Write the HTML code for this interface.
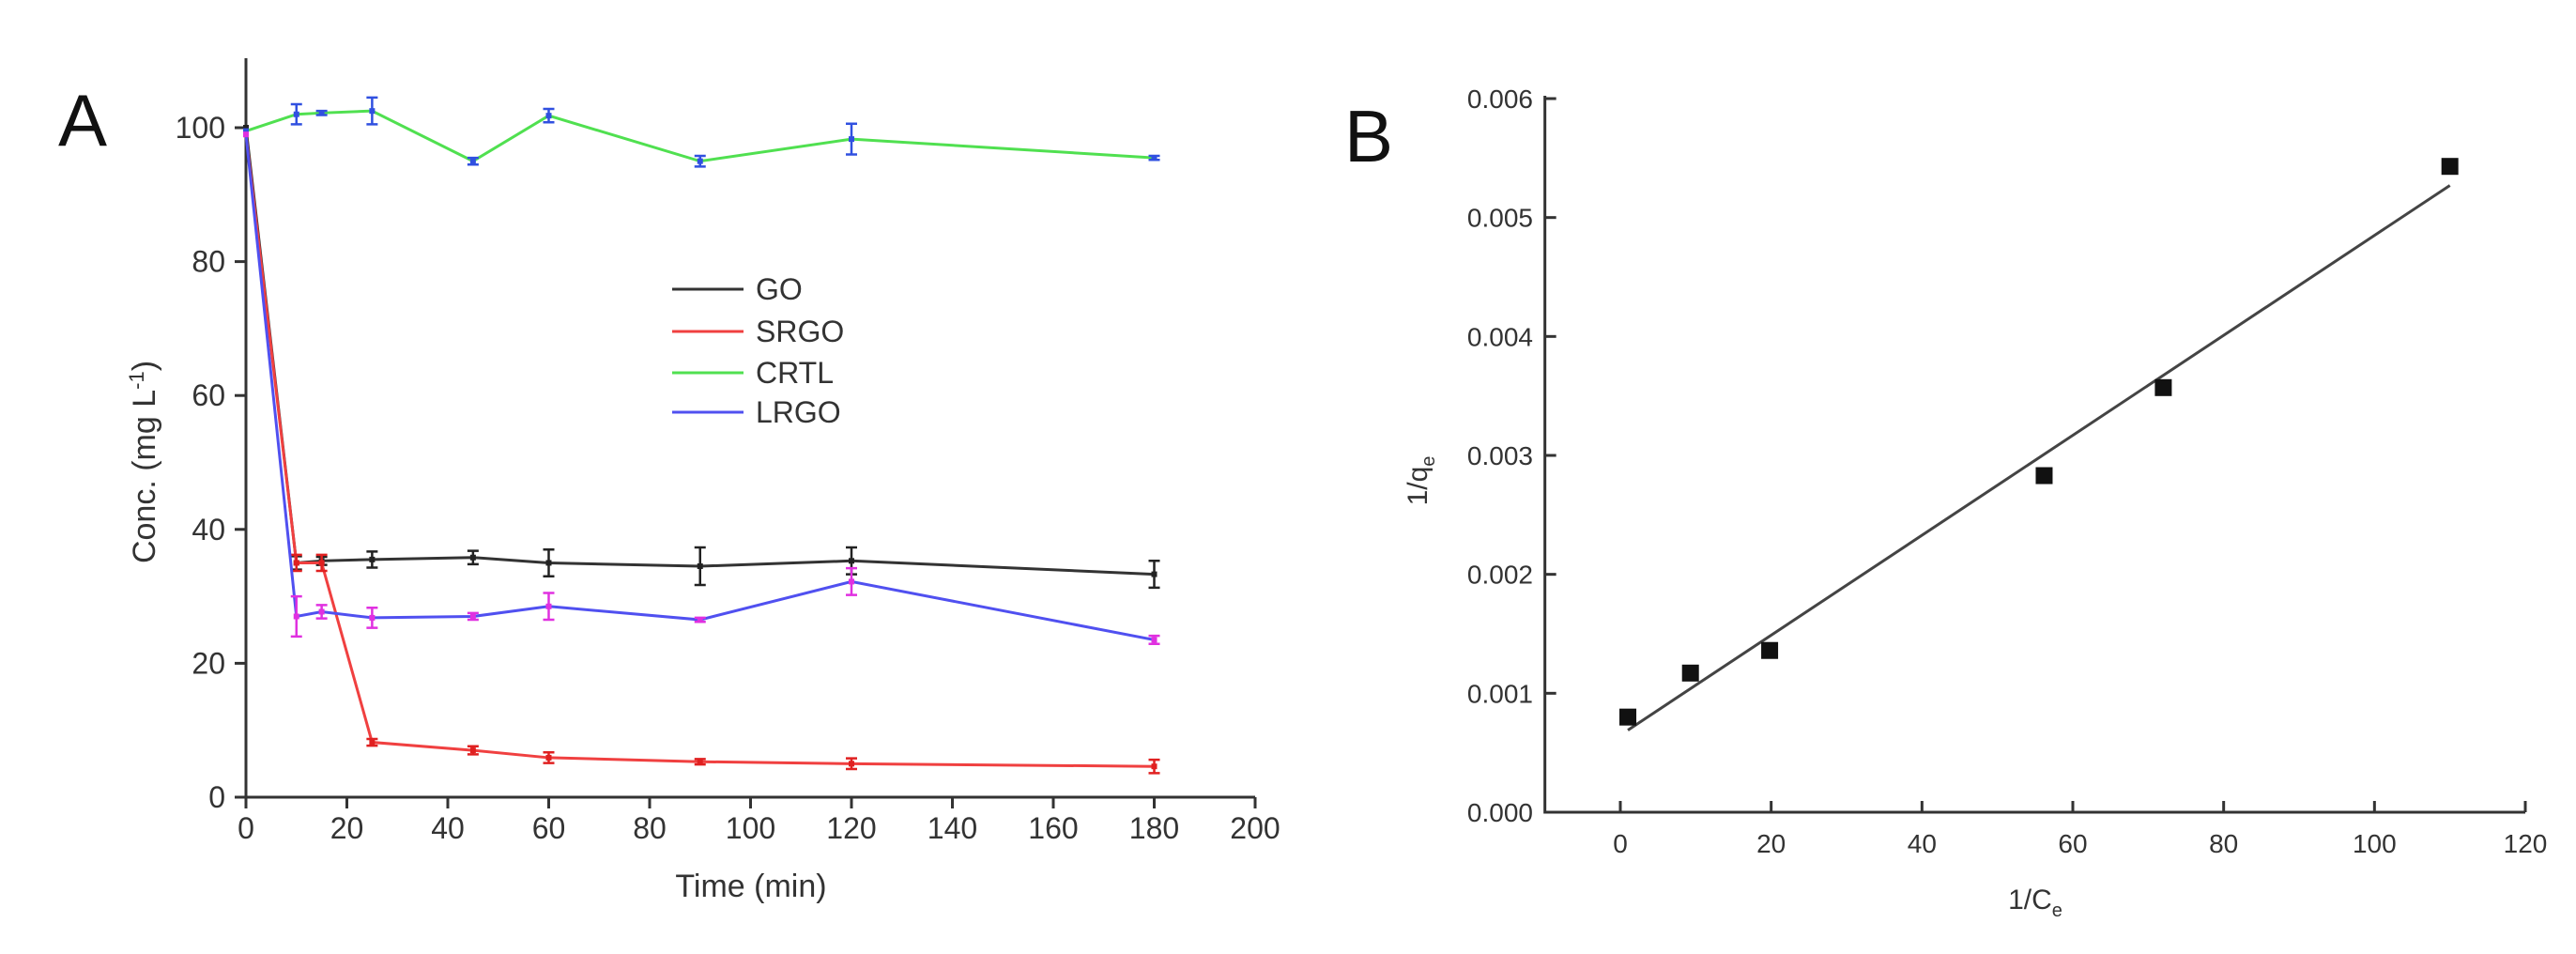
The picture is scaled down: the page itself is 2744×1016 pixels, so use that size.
<!DOCTYPE html>
<html><head><meta charset="utf-8"><style>
html,body{margin:0;padding:0;background:#fff}
svg{display:block}
text{font-family:"Liberation Sans",Arial,sans-serif;fill:#333}
</style></head><body>
<svg id="fig" width="2744" height="1016" viewBox="0 0 2744 1016">
<text x="88" y="155" font-size="78" text-anchor="middle" style="fill:#111">A</text>
<text x="1458" y="172" font-size="78" text-anchor="middle" style="fill:#111">B</text>
<g id="chartA"></g>
<g id="chartB"></g>
</svg>
<script>
// Chart A data
const times = [0,10,15,25,45,60,90,120,180];
const goVals = [100,35,35.3,35.5,35.8,35,34.5,35.3,33.3];
const goErr = [0,1,0.6,1.2,1,2,2.8,2,2];
const srgoVals = [99,35,35,8.2,7,5.9,5.3,5,4.6];
const srgoErr = [0,1.2,1.2,0.5,0.6,0.8,0.4,0.8,1];
const crtlVals = [99.5,102,102.2,102.5,95,101.8,95,98.3,95.5];
const crtlErr = [0,1.5,0.3,2,0.5,1,0.8,2.3,0.3];
const lrgoVals = [99,27,27.7,26.8,27,28.5,26.5,32.2,23.5];
const lrgoErr = [0,3,1,1.5,0.5,2,0.3,2,0.6];
const xTicksA = [0,20,40,60,80,100,120,140,160,180,200];
const yTicksA = [0,20,40,60,80,100];
// Chart B data
const invC = [1,9.3,19.8,56.2,72,110];
const invQ = [0.0008,0.00117,0.00136,0.00283,0.00357,0.00543];
const fitX = [1,110];
const fitY = [0.00069,0.00527];
const xTicksB = [0,20,40,60,80,100,120];
const yTicksB = [0,0.001,0.002,0.003,0.004,0.005,0.006];

const NS='http://www.w3.org/2000/svg';
function mk(parent,tag,attrs,txt){const e=document.createElementNS(NS,tag);for(const k in attrs)e.setAttribute(k,attrs[k]);if(txt!==undefined)e.textContent=txt;parent.appendChild(e);return e;}

// ---- Chart A ----
const A=document.getElementById('chartA');
const ax=v=>262+(v/200)*1075;
const ay=v=>849-(v/100)*713;
let axl=mk(A,'path',{d:`M262 62 V849 H${ax(200)}`,fill:'none',stroke:'#333','stroke-width':3});


xTicksA.forEach(t=>{
  let l=mk(A,'line',{x1:ax(t),x2:ax(t),y1:849,y2:861,stroke:'#333','stroke-width':3});
  
  
  let tx=mk(A,'text',{x:ax(t),y:893,'font-size':32,'text-anchor':'middle'},String(t));
  
  
});
yTicksA.forEach(t=>{
  let l=mk(A,'line',{x1:250,x2:262,y1:ay(t),y2:ay(t),stroke:'#333','stroke-width':3});
  
  
  let tx=mk(A,'text',{x:240,y:ay(t)+11,'font-size':32,'text-anchor':'end'},String(t));
  
  
});
let xt=mk(A,'text',{x:800,y:955,'font-size':34,'text-anchor':'middle'},'Time (min)');


let yt=mk(A,'text',{x:0,y:0,'font-size':34,'text-anchor':'middle',transform:'translate(165,492) rotate(-90)'});


yt.innerHTML='Conc. (mg L<tspan dy="-12" font-size="22">-1</tspan><tspan dy="12">)</tspan>';

const series=[
 {name:'GO',vals:goVals,err:goErr,c:'#333',ec:'#222'},
 {name:'SRGO',vals:srgoVals,err:srgoErr,c:'#f04040',ec:'#e02020'},
 {name:'CRTL',vals:crtlVals,err:crtlErr,c:'#50e050',ec:'#3050e0'},
 {name:'LRGO',vals:lrgoVals,err:lrgoErr,c:'#5050f0',ec:'#e030e0'}
];
series.forEach((s,si)=>{
  const g=mk(A,'g',{});
  
  
  const pts=times.map((t,i)=>ax(t)+','+ay(s.vals[i])).join(' ');
  let pl=mk(g,'polyline',{points:pts,fill:'none',stroke:s.c,'stroke-width':3});
  
  
  times.forEach((t,i)=>{
    const x=ax(t),y1=ay(s.vals[i]+s.err[i]),y2=ay(s.vals[i]-s.err[i]);
    if(s.err[i]>0){
      let e=mk(g,'path',{d:`M${x} ${y1} V${y2} M${x-6} ${y1} H${x+6} M${x-6} ${y2} H${x+6}`,stroke:s.ec,'stroke-width':2.5,fill:'none'});
      
      
    }
    let p=mk(g,'rect',{x:x-3,y:ay(s.vals[i])-3,width:6,height:6,fill:s.ec});
    
    
  });
  const ly=[308,353,397,439][si];
  let ll=mk(g,'line',{x1:716,x2:792,y1:ly,y2:ly,stroke:s.c,'stroke-width':3});
  
  
  let lt=mk(g,'text',{x:805,y:ly+11,'font-size':32},s.name);
  
  
});

// ---- Chart B ----
const B=document.getElementById('chartB');
const bx=v=>1726+(v/120)*964;
const by=v=>865-(v/0.006)*760;
let bxl=mk(B,'path',{d:`M${bx(-10)} 102 V865 H${bx(120)}`,fill:'none',stroke:'#333','stroke-width':3});


xTicksB.forEach(t=>{
  let l=mk(B,'line',{x1:bx(t),x2:bx(t),y1:865,y2:853,stroke:'#333','stroke-width':3});
  
  
  let tx=mk(B,'text',{x:bx(t),y:908,'font-size':28,'text-anchor':'middle'},String(t));
  
  
});
yTicksB.forEach(t=>{
  let l=mk(B,'line',{x1:bx(-10),x2:bx(-10)+12,y1:by(t),y2:by(t),stroke:'#333','stroke-width':3});
  
  
  let tx=mk(B,'text',{x:1633,y:by(t)+10,'font-size':28,'text-anchor':'end'},t.toFixed(3));
  
  
});
let bxt=mk(B,'text',{x:2168,y:968,'font-size':30,'text-anchor':'middle'});


bxt.innerHTML='1/C<tspan dy="8" font-size="20">e</tspan>';
let byt=mk(B,'text',{x:0,y:0,'font-size':30,'text-anchor':'middle',transform:'translate(1520,512) rotate(-90)'});


byt.innerHTML='1/q<tspan dy="8" font-size="20">e</tspan>';
let fl=mk(B,'line',{x1:bx(fitX[0]),y1:by(fitY[0]),x2:bx(fitX[1]),y2:by(fitY[1]),stroke:'#444','stroke-width':3});


invC.forEach((c,i)=>{
  let r=mk(B,'rect',{x:bx(c)-9,y:by(invQ[i])-9,width:18,height:18,fill:'#111'});
  
  
});
</script>
</body></html>
